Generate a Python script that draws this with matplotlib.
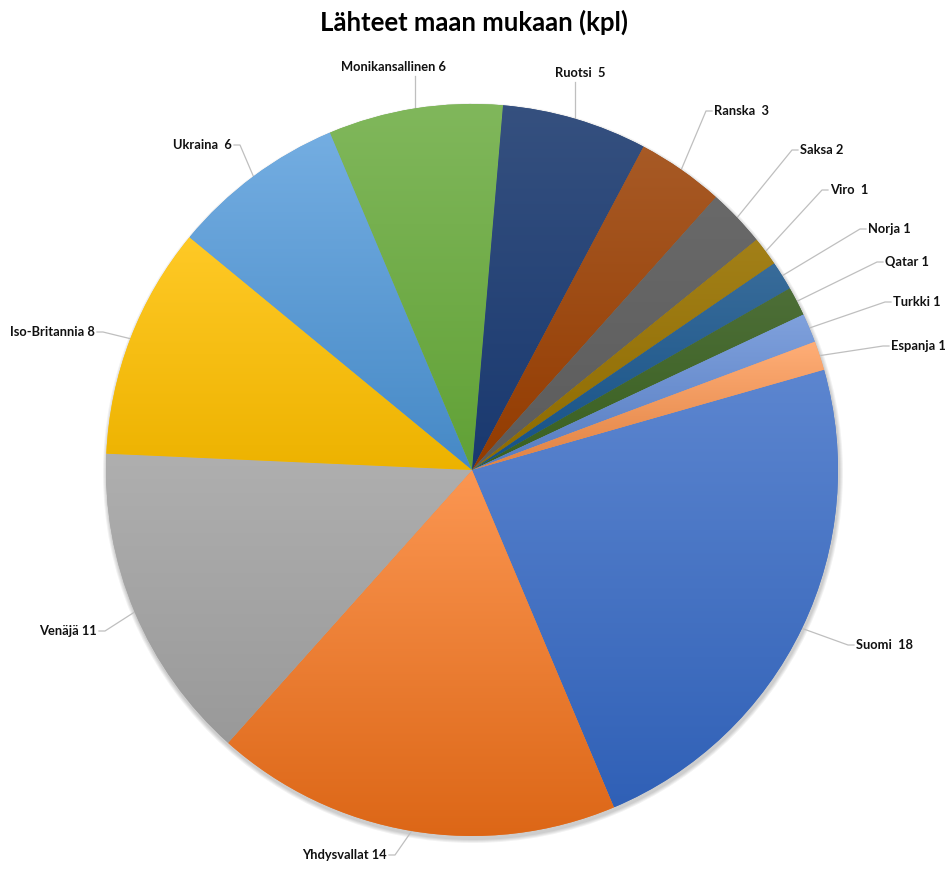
import numpy as np
import matplotlib
matplotlib.use("Agg")
import matplotlib.pyplot as plt
from matplotlib.patches import Circle
from matplotlib.colors import to_rgb, rgb_to_hsv, hsv_to_rgb

# data
countries = ["Suomi", "Yhdysvallat", "Venäjä", "Iso-Britannia", "Ukraina",
             "Monikansallinen", "Ruotsi", "Ranska", "Saksa", "Viro", "Norja",
             "Qatar", "Turkki", "Espanja"]
counts = [18, 14, 11, 8, 6, 6, 5, 3, 2, 1, 1, 1, 1, 1]
labels = ["Suomi  18", "Yhdysvallat 14", "Venäjä 11", "Iso-Britannia 8", "Ukraina  6",
          "Monikansallinen 6", "Ruotsi  5", "Ranska  3", "Saksa 2", "Viro  1",
          "Norja 1", "Qatar 1", "Turkki 1", "Espanja 1"]
colors = ["#4472C4", "#ED7D31", "#A5A5A5", "#FFC000", "#5B9BD5", "#70AD47",
          "#264478", "#9E480E", "#636363", "#997300", "#255E91", "#43682B",
          "#698ED0", "#F1975A"]

# label layout in pixel coords (x, y from top, alignment)
label_pos = [(856, 645, "left"), (387, 855, "right"), (97, 631, "right"),
             (95, 332, "right"), (232, 145, "right"), (393, 67, "center"),
             (580, 73, "center"), (714, 111, "left"), (800, 150, "left"),
             (830, 190, "left"), (868, 229, "left"), (885, 262, "left"),
             (893, 302, "left"), (891, 346, "left")]

W, H = 948, 885
cx, cy, R = 472, H - 470, 366
start = 15.9

fig = plt.figure(figsize=(W / 100, H / 100), dpi=100)
ax = fig.add_axes([0, 0, 1, 1])

# soft shadow
for k in range(4):
    ax.add_patch(Circle((cx + 1, cy - 3), R + 4 - k, color="black", alpha=0.05, lw=0, zorder=0))

wedges, _ = ax.pie(counts, colors=colors, startangle=start, counterclock=False,
                   center=(cx, cy), radius=R, frame=True,
                   wedgeprops=dict(edgecolor="none", linewidth=0))


def shade(c, ds, dv):
    hsv = rgb_to_hsv(np.array(to_rgb(c)))
    hsv[1] = min(hsv[1] * ds, 1)
    hsv[2] = min(hsv[2] * dv, 1)
    return hsv_to_rgb(hsv)


for w, c in zip(wedges, colors):
    bb = w.get_path().get_extents()
    top, bot = shade(c, 0.85, 1.06), shade(c, 1.13, 0.93)
    f = np.linspace(0, 1, 256)[:, None, None]
    grad = top * (1 - f) + bot * f
    im = ax.imshow(grad, extent=(bb.x0, bb.x1, bb.y0, bb.y1), aspect="auto",
                   zorder=2, interpolation="bilinear")
    im.set_clip_path(w)
    w.set_zorder(1.9)

ax.set_xlim(0, W)
ax.set_ylim(0, H)
ax.set_aspect("equal")
ax.axis("off")

# labels and leader lines
for w, lab, (tx, ty, ha) in zip(wedges, labels, label_pos):
    mid = np.deg2rad((w.theta1 + w.theta2) / 2)
    ex, ey = cx + R * np.cos(mid), cy + R * np.sin(mid)
    ty_d = H - ty
    ax.text(tx, ty_d, lab, ha=ha, va="center", fontsize=9.3, fontweight="bold",
            family="Lato", color="#111111", zorder=5)
    if ha == "left":
        xs, ys = [tx - 2, tx - 8, ex], [ty_d, ty_d, ey]
    elif ha == "right":
        xs, ys = [tx + 2, tx + 8, ex], [ty_d, ty_d, ey]
    else:
        xs, ys = [ex, ex], [ty_d - 9, ey]
    ax.plot(xs, ys, color="#bfbfbf", lw=0.9, zorder=1.5)

fig.text(0.5, 1 - 22 / H, "Lähteet maan mukaan (kpl)", ha="center", va="center",
         fontsize=18.5, fontweight="bold", family="Lato")

fig.savefig("out.png", dpi=100, facecolor="white")
